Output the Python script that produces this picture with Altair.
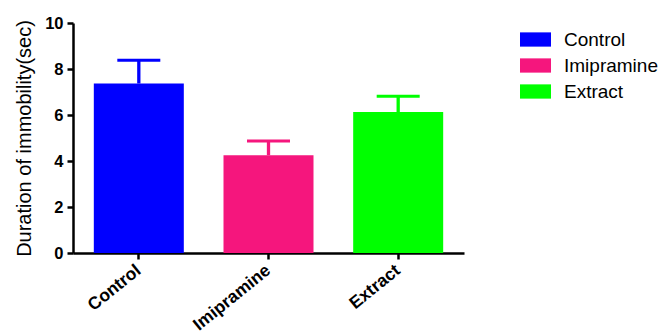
import altair as alt
import pandas as pd

groups = ["Control", "Imipramine", "Extract"]
means = [7.37, 4.25, 6.13]
sems = [1.01, 0.62, 0.68]
colors = ["#0000FF", "#F5167D", "#00FF00"]

df = pd.DataFrame({"group": groups, "mean": means, "sem": sems})
df["top"] = df["mean"] + df["sem"]

FONT = "Liberation Sans"

xenc = alt.X("group:N", sort=groups, title=None,
             scale=alt.Scale(paddingInner=0.305, paddingOuter=0.16),
             axis=alt.Axis(labelAngle=-39, labelAlign="right", labelBaseline="middle",
                           labelFontSize=17.5, labelFontWeight="bold", labelFont=FONT,
                           labelColor="black", tickSize=6, tickWidth=2.5, tickColor="black",
                           domainColor="black", domainWidth=2.5, labelPadding=9))
color = alt.Color("group:N", sort=groups,
                  scale=alt.Scale(domain=groups, range=colors),
                  legend=alt.Legend(title=None, orient="none", legendX=447, legendY=1,
                                    symbolType="M-1,-0.46H1V0.46H-1Z", symbolSize=961,
                                    symbolStrokeWidth=0, symbolOpacity=1,
                                    labelFontSize=19, labelFont=FONT, labelColor="black",
                                    rowPadding=-4, labelOffset=13, padding=0))

bars = alt.Chart(df).mark_bar(size=90, opacity=1).encode(
    x=xenc,
    y=alt.Y("mean:Q", title="Duration of immobility(sec)",
            scale=alt.Scale(domain=[0, 10], nice=False, zero=True),
            axis=alt.Axis(values=[0, 2, 4, 6, 8, 10], grid=False, labelFontSize=16.5,
                          labelFontWeight="bold", labelFont=FONT, labelColor="black",
                          tickSize=6, tickWidth=2.5, tickColor="black",
                          domainColor="black", domainWidth=2.5, labelPadding=4,
                          titleFont=FONT, titleFontSize=20, titleFontWeight="normal",
                          titleColor="black", titlePadding=10)),
    color=color,
)

stems = alt.Chart(df).mark_rule(strokeWidth=3.3, opacity=1).encode(
    x=alt.X("group:N", sort=groups),
    y="mean:Q",
    y2="top:Q",
    color=alt.Color("group:N", sort=groups, scale=alt.Scale(domain=groups, range=colors), legend=None),
)

caps = alt.Chart(df).mark_tick(size=43, thickness=3, opacity=1).encode(
    x=alt.X("group:N", sort=groups),
    y="top:Q",
    color=alt.Color("group:N", sort=groups, scale=alt.Scale(domain=groups, range=colors), legend=None),
)

chart = alt.layer(bars, stems, caps).properties(
    width=391, height=230,
    autosize=alt.AutoSizeParams(type="none"),
    padding={"left": 65, "top": 15, "right": 198, "bottom": 80},
).configure(background="white").configure_view(stroke=None)

chart.save("out.html", embed_options={"renderer": "svg", "actions": False})
